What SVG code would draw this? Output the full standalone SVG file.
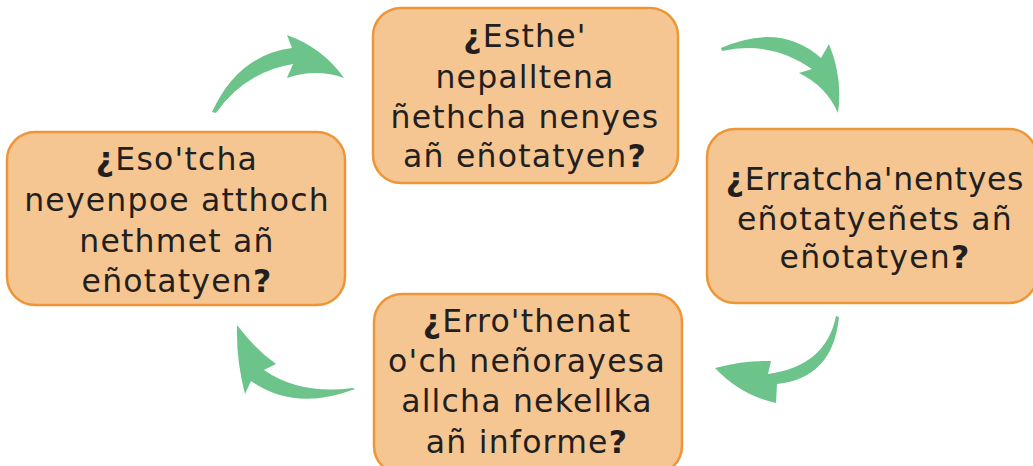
<svg xmlns="http://www.w3.org/2000/svg" width="1033" height="466" viewBox="0 0 1033 466">
  <style>
    .box { fill: #F5C691; stroke: #EE9637; stroke-width: 2.5; }
    .label { font-family: "DejaVu Sans", "Liberation Sans", sans-serif; font-size: 31.5px; fill: #231F20; text-anchor: middle; letter-spacing: 1.2px; }
    .tight { letter-spacing: 0.7px; }
    .q { font-weight: bold; }
    .arrow { fill: #6DC48B; stroke: none; }
  </style>
  <rect width="1033" height="466" fill="#FFFFFF"/>

  <!-- curved arrows running clockwise between the four questions -->
  <g id="connectors">
    <path class="arrow" d="M 212,112 Q 238,55 292,48 L 287,35 Q 323,48 344,78 Q 316,68 287,78 L 293,64 Q 245,72 216,113 Z"/>
    <path class="arrow" d="M 721,48 Q 780,22 821,58 L 829,44 Q 843,78 838,113 Q 826,86 799,73 L 812,69 Q 770,40 722,51 Z"/>
    <path class="arrow" d="M 839,317 Q 833,378 777,384 L 776,403 Q 740,395 715,368 Q 745,360 771,361 L 768,374 Q 826,366 836,316 Z"/>
    <path class="arrow" d="M 355,389 Q 295,412 251,381 L 245,394 Q 236,360 237,325 Q 256,350 276,364 L 264,370 Q 300,395 353,388 Z"/>
  </g>

  <g id="node-top">
    <rect class="box" x="373" y="8" width="305" height="175" rx="28"/>
    <text class="label" x="525" y="47"><tspan class="q">¿</tspan>Esthe'</text>
    <text class="label" x="525" y="88">nepalltena</text>
    <text class="label" x="525" y="128">ñethcha nenyes</text>
    <text class="label" x="525" y="167">añ eñotatyen<tspan class="q">?</tspan></text>
  </g>

  <g id="node-right">
    <rect class="box" x="707" y="129" width="330" height="174" rx="28"/>
    <text class="label tight" x="875" y="190"><tspan class="q">¿</tspan>Erratcha'nentyes</text>
    <text class="label" x="875" y="230">eñotatyeñets añ</text>
    <text class="label" x="875" y="268">eñotatyen<tspan class="q">?</tspan></text>
  </g>

  <g id="node-bottom">
    <rect class="box" x="374" y="294" width="308" height="180" rx="28"/>
    <text class="label" x="527" y="332"><tspan class="q">¿</tspan>Erro'thenat</text>
    <text class="label" x="527" y="372">o'ch neñorayesa</text>
    <text class="label" x="527" y="412">allcha nekellka</text>
    <text class="label" x="527" y="453">añ informe<tspan class="q">?</tspan></text>
  </g>

  <g id="node-left">
    <rect class="box" x="7" y="132" width="338" height="173" rx="28"/>
    <text class="label" x="177" y="170"><tspan class="q">¿</tspan>Eso'tcha</text>
    <text class="label" x="177" y="211">neyenpoe atthoch</text>
    <text class="label" x="177" y="252">nethmet añ</text>
    <text class="label" x="177" y="292">eñotatyen<tspan class="q">?</tspan></text>
  </g>
</svg>
